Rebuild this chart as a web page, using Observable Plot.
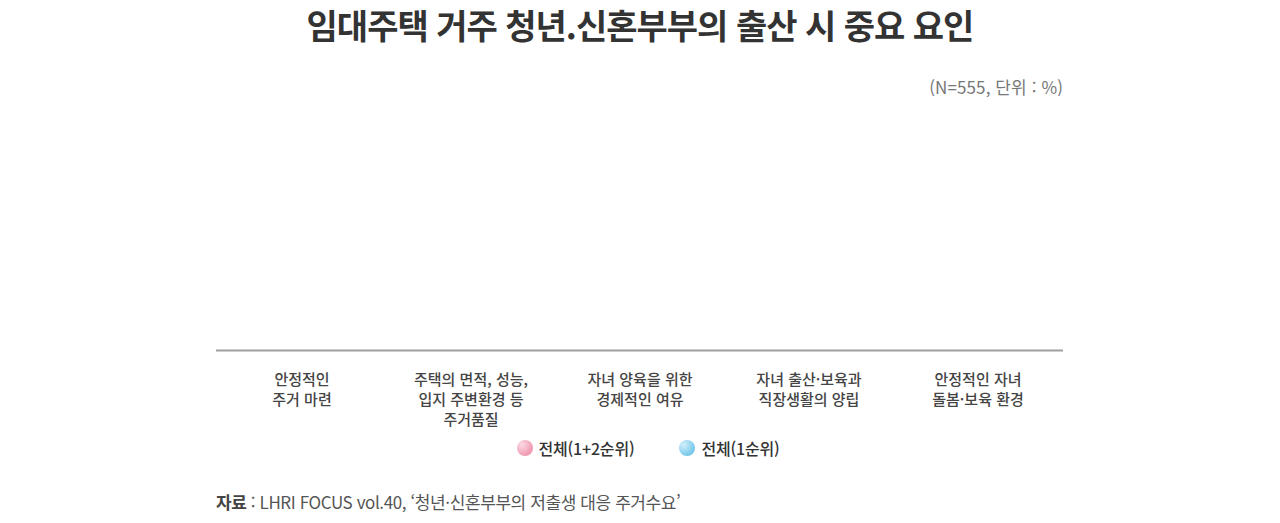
<!DOCTYPE html>
<html lang="ko">
<head>
<meta charset="utf-8">
<script src="https://cdn.jsdelivr.net/npm/d3@7"></script>
<script src="https://cdn.jsdelivr.net/npm/@observablehq/plot@0.6"></script>
<style>
  html, body { margin: 0; padding: 0; background: #fff; }
  body { width: 1280px; height: 523px; position: relative; overflow: hidden;
         font-family: "Noto Sans CJK KR", "Noto Sans", sans-serif; }
  #title { position: absolute; left: 0; top: 0; width: 1280px; text-align: center;
           font-size: 34px; font-weight: bold; color: #333; letter-spacing: -1px; line-height: normal; }
  #sub { position: absolute; right: 217px; top: 75px; font-size: 17px; color: #777; letter-spacing: 0.1px; line-height: 24px; }
  #chart { position: absolute; left: 0; top: 100px; }
  #legend { position: absolute; top: 437px; left: 8px; width: 1280px; display: flex; justify-content: center; gap: 45px;
            font-size: 16px; color: #333; letter-spacing: -0.2px; line-height: 22px; font-weight: 500; }
  #legend .item { display: flex; align-items: center; }
  #legend .dot { width: 16px; height: 16px; border-radius: 50%; margin-right: 6px; }
  #src { position: absolute; left: 216px; top: 490px; font-size: 17px; color: #555; letter-spacing: -0.4px; line-height: 24px; }
  #src b { color: #444; }
</style>
</head>
<body>
<div id="title">임대주택 거주 청년.신혼부부의 출산 시 중요 요인</div>
<div id="sub">(N=555, 단위 : %)</div>
<div id="chart"></div>
<div id="legend"></div>
<div id="src"><b>자료</b> : LHRI FOCUS vol.40, ‘청년·신혼부부의 저출생 대응 주거수요’</div>
<script>
const categories = [
  "안정적인\n주거 마련",
  "주택의 면적, 성능,\n입지 주변환경 등\n주거품질",
  "자녀 양육을 위한\n경제적인 여유",
  "자녀 출산·보육과\n직장생활의 양립",
  "안정적인 자녀\n돌봄·보육 환경"
];
const seriesNames = ["전체(1+2순위)", "전체(1순위)"];
const seriesColors = ["#ec7f9c", "#4fb8e3"];
const seriesLight = ["#fbd9e2", "#d3effa"];
// bars are not drawn (zero height) in the reference picture
const valuesTotal12 = [0, 0, 0, 0, 0];
const valuesTotal1 = [0, 0, 0, 0, 0];

const rows = [];
categories.forEach((c, i) => {
  rows.push({category: c, series: seriesNames[0], value: valuesTotal12[i]});
  rows.push({category: c, series: seriesNames[1], value: valuesTotal1[i]});
});

const chart = Plot.plot({
  width: 1280,
  height: 340,
  marginLeft: 216,
  marginRight: 217,
  marginTop: 10,
  marginBottom: 90,
  style: {fontFamily: '"Noto Sans CJK KR", sans-serif', background: "transparent"},
  x: {domain: categories, padding: 0},
  y: {domain: [0, 100], axis: null},
  color: {domain: seriesNames, range: seriesColors},
  marks: [
    Plot.barY(rows.filter(d => d.series === seriesNames[0]), {x: "category", y: "value", fill: "series", insetLeft: 50, insetRight: 86}),
    Plot.barY(rows.filter(d => d.series === seriesNames[1]), {x: "category", y: "value", fill: "series", insetLeft: 86, insetRight: 50}),
    Plot.ruleY([0], {stroke: "#a0a0a0", strokeWidth: 2}),
    Plot.axisX({tickSize: 0, tickPadding: 20, lineHeight: 1.33, fontSize: 15, fontWeight: 500, fill: "#444", label: null})
  ]
});
document.getElementById("chart").appendChild(chart);

const legend = document.getElementById("legend");
seriesNames.forEach((s, i) => {
  const item = document.createElement("div");
  item.className = "item";
  const dot = document.createElement("span");
  dot.className = "dot";
  dot.style.background = `radial-gradient(circle at 30% 30%, ${seriesLight[i]}, ${seriesColors[i]})`;
  const t = document.createElement("span");
  t.textContent = s;
  item.appendChild(dot); item.appendChild(t);
  legend.appendChild(item);
});
</script>
</body>
</html>
